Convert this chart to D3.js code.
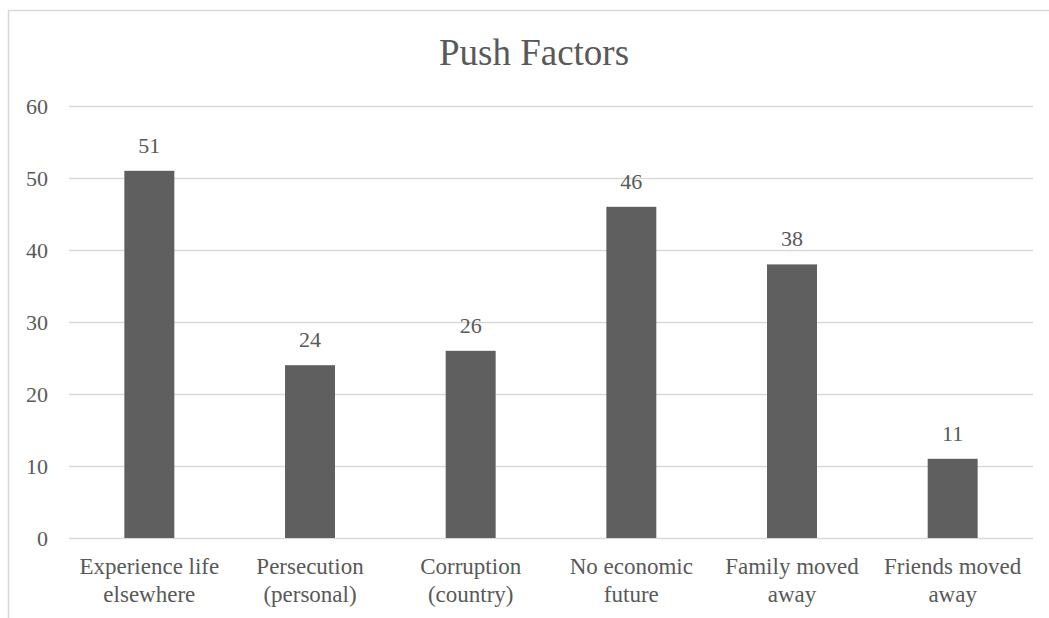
<!DOCTYPE html>
<html>
<head>
<meta charset="utf-8">
<script src="https://cdnjs.cloudflare.com/ajax/libs/d3/7.8.5/d3.min.js"></script>
</head>
<body style="margin:0; background:#fff;">
<svg id="chart"></svg>
<script>
// Chart data
let categories = [
    ['Experience life', 'elsewhere'],
    ['Persecution', '(personal)'],
    ['Corruption', '(country)'],
    ['No economic', 'future'],
    ['Family moved', 'away'],
    ['Friends moved', 'away']
];
let values = [51, 24, 26, 46, 38, 11];
let yTicks = [0, 10, 20, 30, 40, 50, 60];
let title = 'Push Factors';

let c = {
    svg: { width: 1049, height: 618 },
    plot: { left: 69, right: 1033, top: 106, bottom: 538 },
    colors: { bar: '#5f5f5f', grid: '#d9d9d9', text: '#595959' }
};

// text uses the browser's default (Times-like) face, so no font-family is set
let svg = d3.select('#chart')
    .attr('width', c.svg.width)
    .attr('height', c.svg.height);

// chart area border (runs past the right and bottom edges)
svg.append('rect')
    .attr('x', 8.5)
    .attr('y', 10.5)
    .attr('width', 1060)
    .attr('height', 640)
    .style('fill', 'none')
    .style('stroke', c.colors.grid)
    .style('stroke-width', 1.5);

let x = d3.scaleBand()
    .domain(d3.range(categories.length))
    .range([c.plot.left, c.plot.right])
    .paddingInner(0.689)
    .paddingOuter(0.3445);

let y = d3.scaleLinear()
    .domain([0, 60])
    .range([c.plot.bottom, c.plot.top]);

// gridlines and y labels
let yAxis = d3.axisLeft(y)
    .tickValues(yTicks)
    .tickSize(-(c.plot.right - c.plot.left))
    .tickPadding(21);

let gy = svg.append('g')
    .attr('transform', translate(c.plot.left, 0))
    .call(yAxis);
gy.attr('font-family', null).attr('font-size', null);
gy.select('.domain').remove();
gy.selectAll('.tick line')
    .style('stroke', c.colors.grid)
    .style('stroke-width', 1.5);
gy.selectAll('.tick text')
    .style('font-size', '22px')
    .style('fill', c.colors.text)
    .attr('dy', '0.35em');

// bars
svg.append('g')
    .selectAll('rect')
    .data(values)
    .join('rect')
    .attr('x', (d, i) => x(i))
    .attr('y', d => y(d))
    .attr('width', x.bandwidth())
    .attr('height', d => y(0) - y(d))
    .style('fill', c.colors.bar);

// value labels
svg.append('g')
    .selectAll('text')
    .data(values)
    .join('text')
    .attr('x', (d, i) => x(i) + x.bandwidth() / 2)
    .attr('y', d => y(d) - 18)
    .attr('text-anchor', 'middle')
    .style('font-size', '22px')
    .style('fill', c.colors.text)
    .text(d => d);

// category labels, two lines each
let cat = svg.append('g')
    .selectAll('text')
    .data(categories)
    .join('text')
    .attr('text-anchor', 'middle')
    .style('font-size', '23px')
    .style('fill', c.colors.text);
cat.selectAll('tspan')
    .data((d, i) => d.map(line => ({ line: line, i: i })))
    .join('tspan')
    .attr('x', d => x(d.i) + x.bandwidth() / 2)
    .attr('y', (d, j) => 574 + j * 28)
    .text(d => d.line);

// title
svg.append('text')
    .attr('x', 534)
    .attr('y', 65)
    .attr('text-anchor', 'middle')
    .style('font-size', '37px')
    .style('fill', c.colors.text)
    .text(title);

function translate(x, y) {
    return 'translate(' + x + ',' + y + ')';
}
</script>
</body>
</html>
